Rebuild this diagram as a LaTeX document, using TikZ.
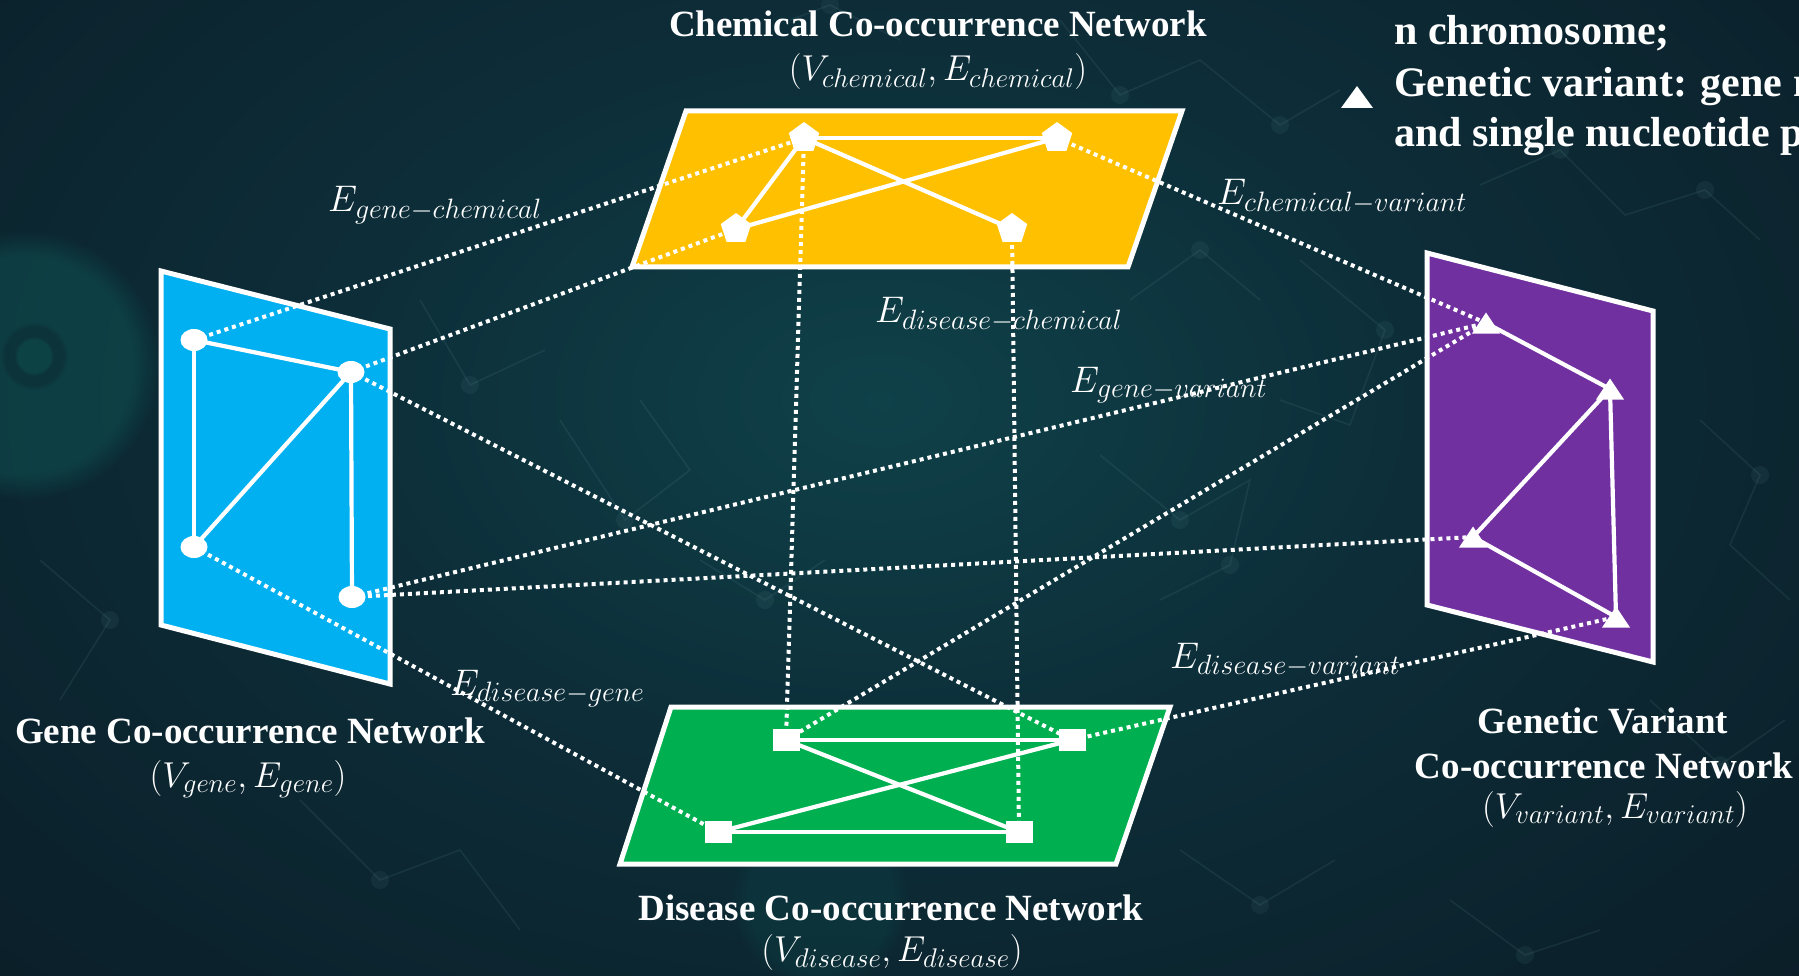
\documentclass[tikz,border=0pt]{standalone}
\usepackage{fix-cm}
\usepackage{fontspec}
\setmainfont{Liberation Serif}
\usetikzlibrary{shapes.geometric,fadings}

\DeclareMathSizes{37}{37}{28}{20}
\DeclareMathSizes{36}{36}{27}{19}

\definecolor{bgdark}{HTML}{0A1B25}
\definecolor{bgmid}{HTML}{0D2D38}
\definecolor{bgteal}{HTML}{0F4149}
\definecolor{glowgreen}{HTML}{0F5A58}
\definecolor{netfaint}{HTML}{6E9FA4}
\definecolor{chemyellow}{HTML}{FFC000}
\definecolor{geneblue}{HTML}{00B0F0}
\definecolor{varpurple}{HTML}{7030A0}
\definecolor{disgreen}{HTML}{00B050}

\pgfdeclareradialshading{backglow}{\pgfpoint{0bp}{0bp}}{%
  color(0bp)=(bgteal); color(12bp)=(bgmid); color(30bp)=(bgdark); color(50bp)=(bgdark)}

\pgfdeclarelayer{backdrop}
\pgfdeclarelayer{sheets}
\pgfdeclarelayer{wires}
\pgfsetlayers{backdrop,sheets,wires,main}

\tikzset{
  sheet/.style={draw=white, line width=5pt, line join=miter},
  link/.style={draw=white, line width=4pt, dash pattern=on 4pt off 4pt},
  intra/.style={draw=white, line width=4.2pt},
  pentnode/.style={regular polygon, regular polygon sides=5, fill=white,
    minimum size=32pt, inner sep=0pt},
  genenode/.style={ellipse, fill=white, minimum width=27pt, minimum height=22pt, inner sep=0pt},
  disnode/.style={rectangle, fill=white, minimum width=27pt, minimum height=22pt, inner sep=0pt},
  pics/vartri/.style={code={\fill[white] (-14,10.5) -- (14,10.5) -- (0,-10.5) -- cycle;}},
  pics/legtri/.style={code={\fill[white] (-16,11) -- (16,11) -- (0,-11) -- cycle;}},
  nettitle/.style={font=\fontsize{37}{44}\selectfont\bfseries, text=white, inner sep=0pt, anchor=base},
  netsub/.style={font=\fontsize{36}{42}\selectfont, text=white, inner sep=0pt, anchor=base},
  elabel/.style={font=\fontsize{37}{44}\selectfont, text=white, inner sep=0pt, anchor=base west},
  legend/.style={font=\fontsize{42}{50}\selectfont\bfseries, text=white, inner sep=0pt, anchor=base west},
  bgnet/.style={draw=netfaint, draw opacity=0.12, line width=1.6pt},
  bgdot/.style={fill=netfaint, fill opacity=0.09},
}

\begin{document}
\begin{tikzpicture}[x=1pt, y=-1pt]
\useasboundingbox (0,0) rectangle (1799,976);

% ---------- backdrop ----------
\begin{pgfonlayer}{backdrop}
  \shade[shading=backglow] (-300,-380) rectangle (2060,1180);
  \fill[glowgreen, opacity=0.45, path fading=circle with fuzzy edge 20 percent] (25,365) circle (135);
  \fill[bgdark, opacity=0.30, path fading=circle with fuzzy edge 15 percent] (34,356) circle (34);
  \fill[glowgreen, opacity=0.40, path fading=circle with fuzzy edge 20 percent] (34,356) circle (20);
  \fill[glowgreen, opacity=0.20, path fading=circle with fuzzy edge 20 percent] (820,900) circle (90);
  % faint molecular web
  \draw[bgnet] (1060,20) -- (1120,95) -- (1200,60) -- (1280,125) -- (1340,90);
  \draw[bgnet] (1480,185) -- (1560,150) -- (1625,215) -- (1705,190) -- (1760,240);
  \draw[bgnet] (1300,260) -- (1385,330) -- (1350,425) -- (1280,400);
  \draw[bgnet] (1100,455) -- (1180,520) -- (1250,480) -- (1230,565) -- (1160,600);
  \draw[bgnet] (560,420) -- (625,520) -- (690,470) -- (640,400);
  \draw[bgnet] (420,300) -- (470,385) -- (545,350);
  \draw[bgnet] (700,560) -- (765,600) -- (825,560);
  \draw[bgnet] (1700,420) -- (1760,475) -- (1730,545) -- (1790,600);
  \draw[bgnet] (1650,700) -- (1720,765) -- (1785,720);
  \draw[bgnet] (300,800) -- (380,880) -- (460,850) -- (520,930);
  \draw[bgnet] (1180,850) -- (1260,905) -- (1335,860);
  \draw[bgnet] (1450,900) -- (1525,955) -- (1600,930);
  \draw[bgnet] (790,20) -- (830,5) -- (900,40);
  \draw[bgnet] (40,560) -- (110,620) -- (60,700);
  \draw[bgnet] (1130,300) -- (1200,250) -- (1260,300);
  \foreach \p in {(1120,95),(1280,125),(1560,150),(1705,190),(1385,330),(1180,520),
                  (1230,565),(625,520),(470,385),(765,600),(1760,475),(1720,765),
                  (380,880),(1260,905),(1525,955),(830,5),(110,620),(1200,250)}
    \fill[bgdot] \p circle (9);
\end{pgfonlayer}

% ---------- network sheets ----------
\begin{pgfonlayer}{sheets}
  \filldraw[sheet, fill=chemyellow] (686,111) -- (1182,111) -- (1128,267) -- (632,267) -- cycle;
  \filldraw[sheet, fill=geneblue] (161,271) -- (390,329) -- (390,684) -- (161,625) -- cycle;
  \filldraw[sheet, fill=varpurple] (1427,253) -- (1653,311) -- (1653,662) -- (1427,605) -- cycle;
  \filldraw[sheet, fill=disgreen] (671,707) -- (1170,707) -- (1116,864) -- (620,864) -- cycle;
\end{pgfonlayer}

% ---------- vertices ----------
% chemicals
\node[pentnode] (p1) at (804,138) {};
\node[pentnode] (p2) at (1057,138) {};
\node[pentnode] (p3) at (736,229) {};
\node[pentnode] (p4) at (1012,229) {};
% genes
\node[genenode] (g1) at (194,340) {};
\node[genenode] (g2) at (351,372) {};
\node[genenode] (g3) at (194,547) {};
\node[genenode] (g4) at (352,597) {};
% diseases
\node[disnode] (d1) at (786,740) {};
\node[disnode] (d2) at (1072,740) {};
\node[disnode] (d3) at (718,832) {};
\node[disnode] (d4) at (1019,832) {};
% genetic variants
\coordinate (v1) at (1486,323);
\coordinate (v2) at (1610,389);
\coordinate (v3) at (1473,537);
\coordinate (v4) at (1616,617);
\pic at (v1) {vartri};
\pic at (v2) {vartri};
\pic at (v3) {vartri};
\pic at (v4) {vartri};

% ---------- edges ----------
\begin{pgfonlayer}{wires}
  % cross-network associations
  \draw[link] (g1.center) -- (p1.center);
  \draw[link] (g2.center) -- (p3.center);
  \draw[link] (g2.center) -- (d2.center);
  \draw[link] (g3.center) -- (d3.center);
  \draw[link] (g4.center) -- (v1);
  \draw[link] (g4.center) -- (v3);
  \draw[link] (p1.center) -- (d1.center);
  \draw[link] (p4.center) -- (d4.center);
  \draw[link] (p2.center) -- (v1);
  \draw[link] (d1.center) -- (v1);
  \draw[link] (d2.center) -- (v4);
  % co-occurrence within each network
  \draw[intra] (p1.center) -- (p2.center);
  \draw[intra] (p1.center) -- (p3.center);
  \draw[intra] (p1.center) -- (p4.center);
  \draw[intra] (p2.center) -- (p3.center);
  \draw[intra] (g1.center) -- (g2.center);
  \draw[intra] (g1.center) -- (g3.center);
  \draw[intra] (g2.center) -- (g3.center);
  \draw[intra] (g2.center) -- (g4.center);
  \draw[intra] (v1) -- (v2);
  \draw[intra] (v2) -- (v3);
  \draw[intra] (v2) -- (v4);
  \draw[intra] (v3) -- (v4);
  \draw[intra] (d1.center) -- (d2.center);
  \draw[intra] (d1.center) -- (d4.center);
  \draw[intra] (d2.center) -- (d3.center);
  \draw[intra] (d3.center) -- (d4.center);
\end{pgfonlayer}

% ---------- edge-type labels ----------
\node[elabel] (lgc) at (328,212) {$E_{gene-chemical}$};
\node[elabel] (lcv) at (1217,205) {$E_{chemical-variant}$};
\node[elabel] (ldc) at (875,323) {$E_{disease-chemical}$};
\node[elabel] (lgv) at (1070,392) {$E_{gene-variant}$};
\node[elabel] (ldg) at (450,695) {$E_{disease-gene}$};
\node[elabel] (ldv) at (1170,668) {$E_{disease-variant}$};

% ---------- network titles ----------
\node[nettitle] (tchem) at (938,37) {Chemical Co-occurrence Network};
\node[netsub] (schem) at (938,81) {$(V_{chemical}, E_{chemical})$};
\node[nettitle] (tgene) at (250,743) {Gene Co-occurrence Network};
\node[netsub] (sgene) at (248,787) {$(V_{gene}, E_{gene})$};
\node[nettitle] (tvar1) at (1603,733) {Genetic Variant};
\node[nettitle] (tvar2) at (1604,778) {Co-occurrence Network};
\node[netsub] (svar) at (1615,818) {$(V_{variant}, E_{variant})$};
\node[nettitle] (tdis) at (891,920) {Disease Co-occurrence Network};
\node[netsub] (sdis) at (892,961) {$(V_{disease}, E_{disease})$};

% ---------- legend (runs past the right edge) ----------
\begin{scope}
  \clip (0,0) rectangle (1799,976);
  \coordinate (legmark) at (1357,97);
  \pic at (legmark) {legtri};
  \node[legend] (leg1) at (1394,45) {n chromosome;};
  \node[legend] (leg2) at (1394,97) {Genetic variant: gene mutation};
  \node[legend] (leg3) at (1394,147) {and single nucleotide polymorphism};
\end{scope}
\end{tikzpicture}
\end{document}
